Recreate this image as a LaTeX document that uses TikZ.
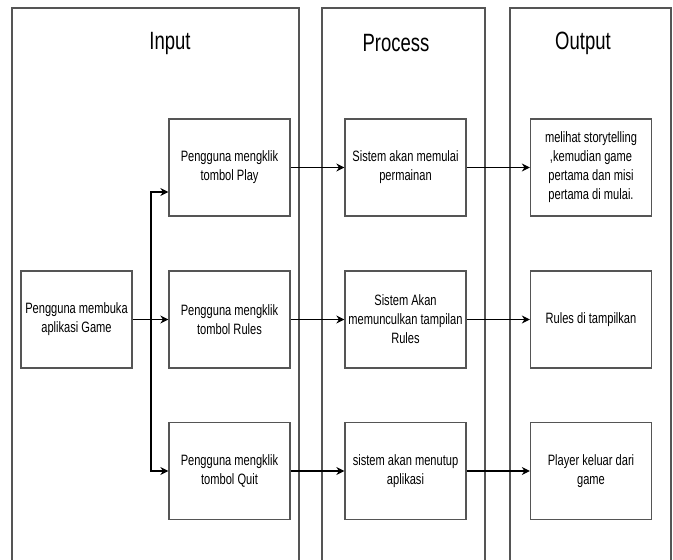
\documentclass[tikz,border=0pt]{standalone}
\usepackage{fontspec}
\setmainfont{Liberation Sans}[FakeStretch=0.74]
\usetikzlibrary{arrows.meta}
\definecolor{framegray}{RGB}{85,85,85}

\begin{document}
\begin{tikzpicture}[x=1pt,y=-1pt,
    lane/.style={draw=framegray,line width=1.3pt},
    lanetitle/.style={font=\fontsize{25}{30}\selectfont},
    stepbox/.style={draw=framegray,line width=1.3pt,shape=rectangle,
      minimum width=121pt,minimum height=97pt,inner sep=0pt,align=center,
      font=\fontsize{15}{19}\selectfont},
    arr/.style={draw=black,line width=1.1pt,-{Stealth[length=8pt,width=8pt]}}]
   \useasboundingbox (0,0) rectangle (673,560);
   % lanes
   \draw[lane] (12,565) -- (12,8) -- (299,8) -- (299,565);
   \draw[lane] (322,565) -- (322,8) -- (485,8) -- (485,565);
   \draw[lane] (510,565) -- (510,8) -- (671,8) -- (671,565);
   \path (170,43) node[lanetitle] (Tin) {Input};
   \path (396,43) node[lanetitle] (Tpro) {Process};
   \path (583,43) node[lanetitle] (Tout) {Output};
   % input
   \path (76.5,319.5) node[stepbox,minimum width=111pt] (Open)
     {Pengguna membuka\\aplikasi Game};
   \path (229.5,167.5) node[stepbox] (Play) {Pengguna mengklik\\tombol Play};
   \path (229.5,319.5) node[stepbox] (Rules) {Pengguna mengklik\\tombol Rules};
   \path (229.5,471) node[stepbox] (Quit) {Pengguna mengklik\\tombol Quit};
   % process
   \path (405.5,167.5) node[stepbox] (SPlay) {Sistem akan memulai\\permainan};
   \path (405.5,319.5) node[stepbox] (SRules)
     {Sistem Akan\\memunculkan tampilan\\Rules};
   \path (405.5,471) node[stepbox] (SQuit) {sistem akan menutup\\aplikasi};
   % output
   \path (591,167.5) node[stepbox] (OPlay)
     {melihat storytelling\\,kemudian game\\pertama dan misi\\pertama di mulai.};
   \path (591,319.5) node[stepbox] (ORules) {Rules di tampilkan};
   \path (591,471) node[stepbox] (OQuit) {Player keluar dari\\game};
   % arrows
   \path (151,319.5) coordinate (split);
   \draw[arr] (Open) -- (Rules);
   \draw[arr] (split) |- ([yshift=-24.5pt]Play.west);
   \draw[arr] (split) |- (Quit.west);
   \draw[arr] (Play) -- (SPlay);
   \draw[arr] (Rules) -- (SRules);
   \draw[arr] (Quit) -- (SQuit);
   \draw[arr] (SPlay) -- (OPlay);
   \draw[arr] (SRules) -- (ORules);
   \draw[arr] (SQuit) -- (OQuit);
\end{tikzpicture}
\end{document}
